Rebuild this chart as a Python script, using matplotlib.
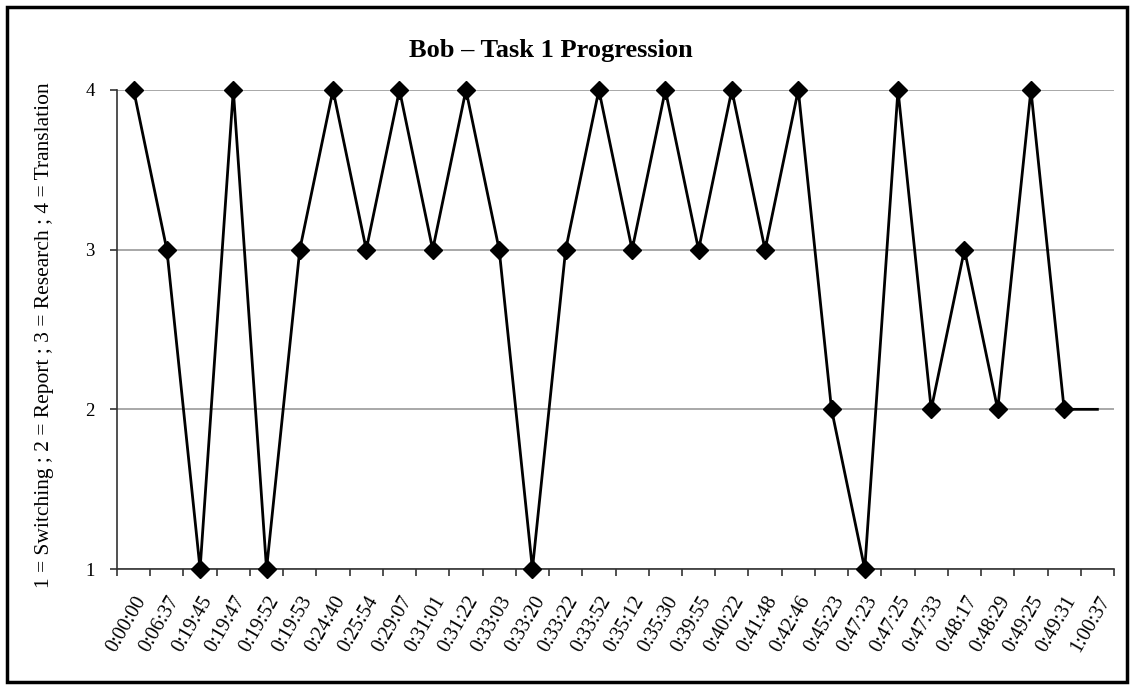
import numpy as np
import matplotlib
matplotlib.use('Agg')
import matplotlib.pyplot as plt
from matplotlib.patches import Rectangle

plt.rcParams['font.family'] = ['Liberation Serif', 'DejaVu Serif']

# session timestamps and activity code at each one
times = ["0:00:00", "0:06:37", "0:19:45", "0:19:47", "0:19:52", "0:19:53",
         "0:24:40", "0:25:54", "0:29:07", "0:31:01", "0:31:22", "0:33:03",
         "0:33:20", "0:33:22", "0:33:52", "0:35:12", "0:35:30", "0:39:55",
         "0:40:22", "0:41:48", "0:42:46", "0:45:23", "0:47:23", "0:47:25",
         "0:47:33", "0:48:17", "0:48:29", "0:49:25", "0:49:31", "1:00:37"]
activity = [4, 3, 1, 4, 1, 3, 4, 3, 4, 3, 4, 3, 1, 3, 4, 3, 4, 3, 4, 3, 4,
            2, 1, 4, 2, 3, 2, 4, 2, 2]
y_ticks = [1, 2, 3, 4]

title = "Bob \u2013 Task 1 Progression"
y_label = "1 = Switching ; 2 = Report ; 3 = Research ; 4 = Translation"

fig = plt.figure(figsize=(11.34, 6.89), dpi=100)
ax = fig.add_axes([117 / 1134, 1 - 569 / 689, (1114 - 117) / 1134, (569 - 90) / 689])

x = np.arange(len(times))
ax.plot(x, activity, color='black', lw=2.0, zorder=3, clip_on=False)
# last entry closes the session, no marker on it
ax.plot(x[:-1], activity[:-1], ls='none', marker='D', ms=9, color='black', zorder=4, clip_on=False)

ax.set_xlim(-0.5, len(times) - 0.5)
ax.set_ylim(1, 4)
ax.set_yticks(y_ticks)
ax.set_yticklabels([str(v) for v in y_ticks], fontsize=13.5)
ax.yaxis.grid(True, color='#999999', lw=1.2)
ax.set_axisbelow(True)

# category labels at the centres, tick marks on the boundaries
ax.set_xticks(x)
ax.set_xticklabels(times, rotation=60, ha='right', va='top', rotation_mode='anchor', fontsize=14.5)
ax.tick_params(axis='x', which='major', length=0, pad=17)
ax.set_xticks(np.arange(-0.5, len(times)), minor=True)
ax.tick_params(axis='x', which='minor', length=5, width=1.2, color='#333333', direction='out')
ax.tick_params(axis='y', length=5, width=1.2, color='#333333', direction='out', pad=11)

for side in ['top', 'right']:
    ax.spines[side].set_visible(False)
for side in ['left', 'bottom']:
    ax.spines[side].set_color('#333333')
    ax.spines[side].set_linewidth(1.2)

ax.set_ylabel(y_label, fontsize=15.5)
ax.yaxis.set_label_coords(-63 / 997, 0.489)
fig.text(551 / 1134, 1 - 50 / 689, title, ha='center', va='center', fontsize=19, fontweight='bold')

fig.patches.append(Rectangle((7 / 1134, 7 / 689), 1120 / 1134, 675 / 689, transform=fig.transFigure,
                             fill=False, edgecolor='black', lw=2.5))

fig.savefig('out.png', dpi=100)
